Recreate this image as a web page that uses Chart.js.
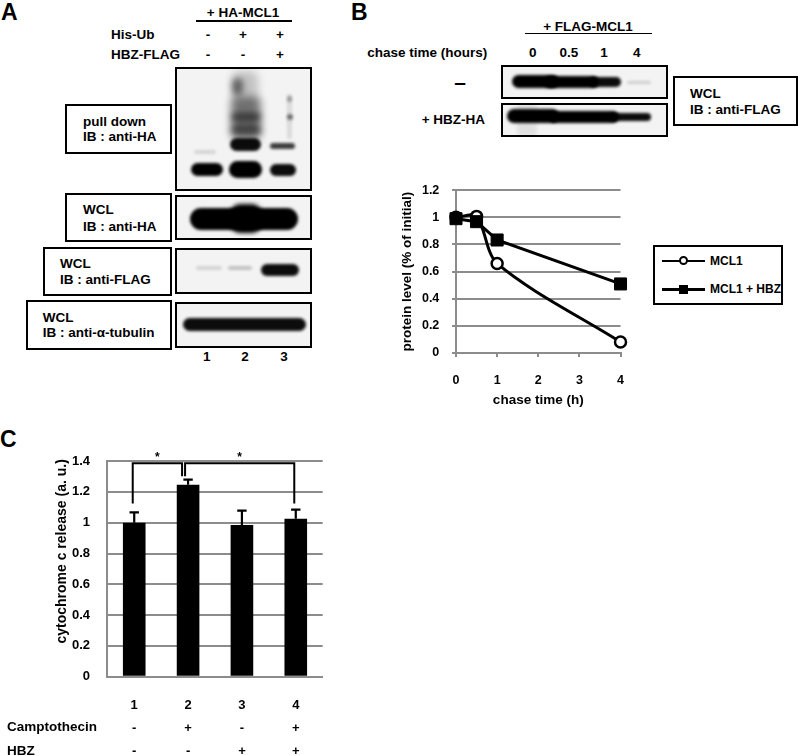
<!DOCTYPE html>
<html>
<head>
<meta charset="utf-8">
<script src="https://cdn.jsdelivr.net/npm/chart.js@4.4.1/dist/chart.umd.min.js"></script>
<style>
  html, body { margin: 0; padding: 0; background: #fff; }
  #fig { position: relative; width: 800px; height: 756px; overflow: hidden;
         font-family: "Liberation Sans", Arial, sans-serif; font-weight: bold; color: #000; }
  .t { position: absolute; white-space: nowrap; line-height: 1; font-size: 13.5px; }
  .c { transform: translate(-50%, -50%); }
  .l { transform: translate(0, -50%); }
  .r { transform: translate(-100%, -50%); }
  .panel { font-size: 23px; }
  .box { position: absolute; border: 2.5px solid #000; box-sizing: border-box; }
  .blot { position: absolute; border: 2.5px solid #000; box-sizing: border-box; background: #f3f3f3; overflow: hidden; }
  .band { position: absolute; background: #000; }
  .rule { position: absolute; height: 1.6px; background: #000; }
  .leg-line { position: absolute; width: 43px; height: 2.5px; background: #000; }
  canvas { position: absolute; }
</style>
</head>
<body>
<div id="fig">
  <!-- panel A -->
  <div class="t panel l" style="left:1px;top:12px">A</div>
  <div class="t c" style="left:243px;top:12.5px">+ HA-MCL1</div>
  <div class="rule" style="left:196px;top:20px;width:96px"></div>
  <div class="t l" style="left:111px;top:34.5px">His-Ub</div>
  <div class="t l" style="left:111px;top:55px">HBZ-FLAG</div>
  <div class="t c" style="left:208px;top:34.5px">-</div>
  <div class="t c" style="left:243px;top:34.5px">+</div>
  <div class="t c" style="left:280px;top:34.5px">+</div>
  <div class="t c" style="left:208px;top:55px">-</div>
  <div class="t c" style="left:243px;top:55px">-</div>
  <div class="t c" style="left:280px;top:55px">+</div>

  <div class="box" style="left:65px;top:104px;width:107px;height:50px"></div>
  <div class="t l" style="left:83px;top:121.7px">pull down</div>
  <div class="t l" style="left:83px;top:136.7px">IB : anti-HA</div>

  <div class="box" style="left:65px;top:193px;width:107px;height:49px"></div>
  <div class="t l" style="left:83px;top:210px">WCL</div>
  <div class="t l" style="left:83px;top:226.7px">IB : anti-HA</div>

  <div class="box" style="left:43px;top:246.7px;width:129px;height:49px"></div>
  <div class="t l" style="left:60px;top:264px">WCL</div>
  <div class="t l" style="left:60px;top:280px">IB : anti-FLAG</div>

  <div class="box" style="left:26px;top:300px;width:146px;height:50px"></div>
  <div class="t l" style="left:42.7px;top:318.3px">WCL</div>
  <div class="t l" style="left:42.7px;top:333.3px">IB : anti-α-tubulin</div>

  <div class="t c" style="left:206.7px;top:356.7px">1</div>
  <div class="t c" style="left:245px;top:356.7px">2</div>
  <div class="t c" style="left:284px;top:356.7px">3</div>

  <!-- panel B -->
  <div class="t panel l" style="left:351px;top:12px">B</div>
  <div class="t c" style="left:588px;top:26.7px">+ FLAG-MCL1</div>
  <div class="rule" style="left:525px;top:32.5px;width:127px"></div>
  <div class="t r" style="left:487.3px;top:53.3px">chase time (hours)</div>
  <div class="t c" style="left:532.7px;top:53.3px">0</div>
  <div class="t c" style="left:569px;top:53.3px">0.5</div>
  <div class="t c" style="left:604px;top:53.3px">1</div>
  <div class="t c" style="left:636.7px;top:53.3px">4</div>
  <div class="t c" style="left:460px;top:80.5px;font-size:21px">–</div>
  <div class="t r" style="left:485px;top:120px">+ HBZ-HA</div>

  <div class="box" style="left:673.3px;top:76px;width:125px;height:50px"></div>
  <div class="t l" style="left:690px;top:94.3px">WCL</div>
  <div class="t l" style="left:690px;top:110px">IB : anti-FLAG</div>

  <canvas id="chartB" width="250" height="240" style="left:390px;top:170px"></canvas>

  <div class="box" style="left:653.3px;top:245px;width:130px;height:60px;border-width:2px"></div>
  <div class="leg-line" style="left:662px;top:259.5px"></div>
  <div style="position:absolute;left:678.5px;top:256.2px;width:9px;height:9px;border:2px solid #000;border-radius:50%;background:#fff;box-sizing:border-box"></div>
  <div class="t l" style="left:710px;top:260.7px;font-size:12px">MCL1</div>
  <div class="leg-line" style="left:662px;top:288px"></div>
  <div style="position:absolute;left:679px;top:285.3px;width:8.5px;height:8.5px;background:#000"></div>
  <div class="t l" style="left:710px;top:289.3px;font-size:12px">MCL1 + HBZ</div>

  <!-- panel C -->
  <div class="t panel l" style="left:0px;top:439px">C</div>
  <canvas id="chartC" width="290" height="320" style="left:40px;top:436px"></canvas>
  <div class="t l" style="left:7px;top:726.7px">Camptothecin</div>
  <div class="t l" style="left:7px;top:750.7px">HBZ</div>
</div>

<script>
// panel B: chase experiment
const chaseHours = [0, 0.5, 1, 4];
const mcl1Level = [1.0, 1.007, 0.66, 0.081];
const mcl1HbzLevel = [0.99, 0.968, 0.833, 0.509];

// panel C: cytochrome c release
const groupLabels = ['1', '2', '3', '4'];
const camptothecinSigns = ['-', '+', '-', '+'];
const hbzSigns = ['-', '-', '+', '+'];
const cytoRelease = [1.0, 1.247, 0.985, 1.026];
const cytoReleaseErr = [0.067, 0.033, 0.094, 0.059];
const sigPairs = [[0, 1], [1, 3]];
const sigLegs = [[1.124, 1.302], [1.302, 1.124]];
const sigTop = 1.386;

const fig = document.getElementById('fig');

// western blot pictures (decoration only, page coordinates)
function addBlot(x0, y0, x1, y1, bands) {
  const el = document.createElement('div');
  el.className = 'blot';
  Object.assign(el.style, {
    left: x0 + 'px', top: y0 + 'px',
    width: (x1 - x0) + 'px', height: (y1 - y0) + 'px'
  });
  bands.forEach(([bx0, by0, bx1, by1, op, blur, rad]) => {
    const b = document.createElement('div');
    b.className = 'band';
    Object.assign(b.style, {
      left: (bx0 - x0 - 2.5) + 'px', top: (by0 - y0 - 2.5) + 'px',
      width: (bx1 - bx0) + 'px', height: (by1 - by0) + 'px',
      opacity: op,
      filter: 'blur(' + (blur == null ? 1.5 : blur) + 'px)',
      borderRadius: rad == null ? ((by1 - by0) / 2) + 'px' : rad
    });
    el.appendChild(b);
  });
  fig.appendChild(el);
}

addBlot(175, 66.7, 312, 190.7, [
  [194, 151, 216, 155, 0.12],
  [191.7, 163.3, 223.3, 176.7, 1],
  [232, 72, 258, 110, 0.2, 4, '8px'],
  [232, 79, 243, 96, 0.5, 3],
  [231, 98, 261, 141, 0.45, 4, '6px'],
  [231, 113, 261, 123, 0.55, 3],
  [231, 125, 261, 136, 0.5, 3],
  [230, 139, 261.7, 152, 0.95],
  [229.3, 161.7, 262.7, 178.3, 1],
  [287.5, 95, 292.5, 140, 0.1, 1.5, '2px'],
  [287.5, 97, 292.5, 103, 0.3],
  [287, 115, 293, 121, 0.5],
  [270, 143.5, 295, 150, 0.75],
  [270, 165, 296.7, 176.7, 0.95]
]);
addBlot(175, 195, 312, 240, [
  [190, 208, 298.3, 230, 1, 1.5, '11px'],
  [230, 204, 262, 233, 1, 2, '10px']
]);
addBlot(175, 248.3, 312, 294.3, [
  [196, 267, 222, 271, 0.13],
  [228, 267, 252, 271, 0.2],
  [261.7, 265, 300, 277, 0.95]
]);
addBlot(175, 301.7, 312, 347.7, [
  [183.3, 318.3, 306.7, 331.7, 0.95]
]);
addBlot(500.7, 65, 668.3, 99, [
  [513, 75, 560, 88.5, 1],
  [545, 76, 600, 88, 1],
  [590, 77.5, 622, 87, 0.95],
  [628, 81, 652, 84.5, 0.15]
]);
addBlot(500.7, 102.7, 668.3, 136.7, [
  [518, 103, 538, 136, 0.07, 2, '0'],
  [508, 110, 560, 124, 1],
  [550, 112, 620, 124, 1],
  [610, 114, 652, 122, 0.95]
]);

Chart.defaults.font.family = "'Liberation Sans', Arial, sans-serif";
Chart.defaults.font.weight = 'bold';
Chart.defaults.color = '#000';

const gridGray = '#8c8c8c';
const plainNumber = (v) => String(Number(v.toFixed(1)));

new Chart(document.getElementById('chartB'), {
  type: 'line',
  data: {
    datasets: [
      {
        label: 'MCL1',
        data: chaseHours.map((h, i) => ({ x: h, y: mcl1Level[i] })),
        borderColor: '#000',
        borderWidth: 3,
        tension: 0.3,
        pointStyle: 'circle',
        pointRadius: 5.5,
        pointBackgroundColor: '#fff',
        pointBorderColor: '#000',
        pointBorderWidth: 2.5,
        order: 2,
        clip: false
      },
      {
        label: 'MCL1 + HBZ',
        data: chaseHours.map((h, i) => ({ x: h, y: mcl1HbzLevel[i] })),
        borderColor: '#000',
        borderWidth: 3,
        tension: 0,
        pointStyle: 'rect',
        pointRadius: 8.5,
        pointBackgroundColor: '#000',
        pointBorderColor: '#000',
        pointBorderWidth: 1,
        order: 1,
        clip: false
      }
    ]
  },
  options: {
    responsive: false,
    animation: false,
    devicePixelRatio: 1,
    layout: { padding: { top: 11, right: 9, left: 0, bottom: 0 } },
    plugins: { legend: { display: false }, tooltip: { enabled: false } },
    scales: {
      x: {
        type: 'linear',
        min: 0,
        max: 4,
        ticks: { stepSize: 1, padding: 16, font: { size: 12.5 }, callback: plainNumber },
        grid: { drawOnChartArea: false, drawTicks: true, tickLength: 4, color: gridGray, lineWidth: 2 },
        border: { color: gridGray, width: 2 },
        title: {
          display: true,
          text: 'chase time (h)',
          font: { size: 13.5 },
          padding: { top: 0, bottom: 2 }
        },
        afterFit: (s) => { s.height = 57; }
      },
      y: {
        min: 0,
        max: 1.2,
        ticks: { stepSize: 0.2, padding: 12.7, font: { size: 12.5 }, callback: plainNumber },
        grid: { color: gridGray, lineWidth: 2, tickLength: 4 },
        border: { color: gridGray, width: 2 },
        title: {
          display: true,
          text: 'protein level (% of initial)',
          font: { size: 13.5 },
          padding: { top: 9.4, bottom: 0 }
        },
        afterFit: (s) => { s.width = 66; }
      }
    }
  }
});

// error bars and significance brackets for panel C
const cExtras = {
  id: 'cExtras',
  afterDatasetsDraw(chart) {
    const { ctx, scales: { x, y } } = chart;
    const meta = chart.getDatasetMeta(0);
    ctx.save();
    ctx.strokeStyle = '#000';
    ctx.fillStyle = '#000';
    ctx.lineWidth = 2.2;
    meta.data.forEach((bar, i) => {
      const top = y.getPixelForValue(cytoRelease[i] + cytoReleaseErr[i]);
      ctx.beginPath();
      ctx.moveTo(bar.x, bar.y);
      ctx.lineTo(bar.x, top);
      ctx.moveTo(bar.x - 4.7, top);
      ctx.lineTo(bar.x + 4.7, top);
      ctx.stroke();
    });

    const yTop = y.getPixelForValue(sigTop);
    const shared = sigPairs[0].filter((v) => sigPairs[1].includes(v));
    sigPairs.forEach(([a, b], k) => {
      const legX = (idx) => {
        const base = x.getPixelForValue(idx);
        if (shared.includes(idx)) return base + (k === 0 ? -6 : -3);
        return base - 1.5;
      };
      const xa = legX(a);
      const xb = legX(b);
      ctx.lineWidth = 2;
      ctx.beginPath();
      ctx.moveTo(xa, y.getPixelForValue(sigLegs[k][0]));
      ctx.lineTo(xa, yTop);
      ctx.lineTo(xb, yTop);
      ctx.lineTo(xb, y.getPixelForValue(sigLegs[k][1]));
      ctx.stroke();
      ctx.font = "bold 12px 'Liberation Sans', Arial, sans-serif";
      ctx.textAlign = 'center';
      ctx.textBaseline = 'middle';
      ctx.fillText('*', (xa + xb) / 2, yTop - 5.5);
    });
    ctx.restore();
  }
};

new Chart(document.getElementById('chartC'), {
  type: 'bar',
  data: {
    labels: groupLabels.map((g, i) => [g, camptothecinSigns[i], hbzSigns[i]]),
    datasets: [{
      label: 'cytochrome c release',
      data: cytoRelease,
      backgroundColor: '#000',
      barPercentage: 0.42,
      categoryPercentage: 1
    }]
  },
  options: {
    responsive: false,
    animation: false,
    devicePixelRatio: 1,
    layout: { padding: { top: 12.3, right: 7.3, left: 0, bottom: 0 } },
    plugins: { legend: { display: false }, tooltip: { enabled: false } },
    scales: {
      x: {
        grid: { display: false, drawTicks: false, tickLength: 0 },
        border: { color: gridGray, width: 2 },
        ticks: { padding: 17.4, font: { size: 13, lineHeight: '22.8px' } },
        afterFit: (s) => { s.height = 79.3; }
      },
      y: {
        min: 0,
        max: 1.4,
        ticks: { stepSize: 0.2, padding: 17.3, font: { size: 13 }, callback: plainNumber },
        grid: { color: gridGray, lineWidth: 2, drawTicks: false, tickLength: 0 },
        border: { color: gridGray, width: 2 },
        title: {
          display: true,
          text: '         cytochrome c release (a. u.)',
          font: { size: 14 },
          padding: { top: 13.6, bottom: 0 }
        },
        afterFit: (s) => { s.width = 67.3; }
      }
    }
  },
  plugins: [cExtras]
});
</script>
</body>
</html>
